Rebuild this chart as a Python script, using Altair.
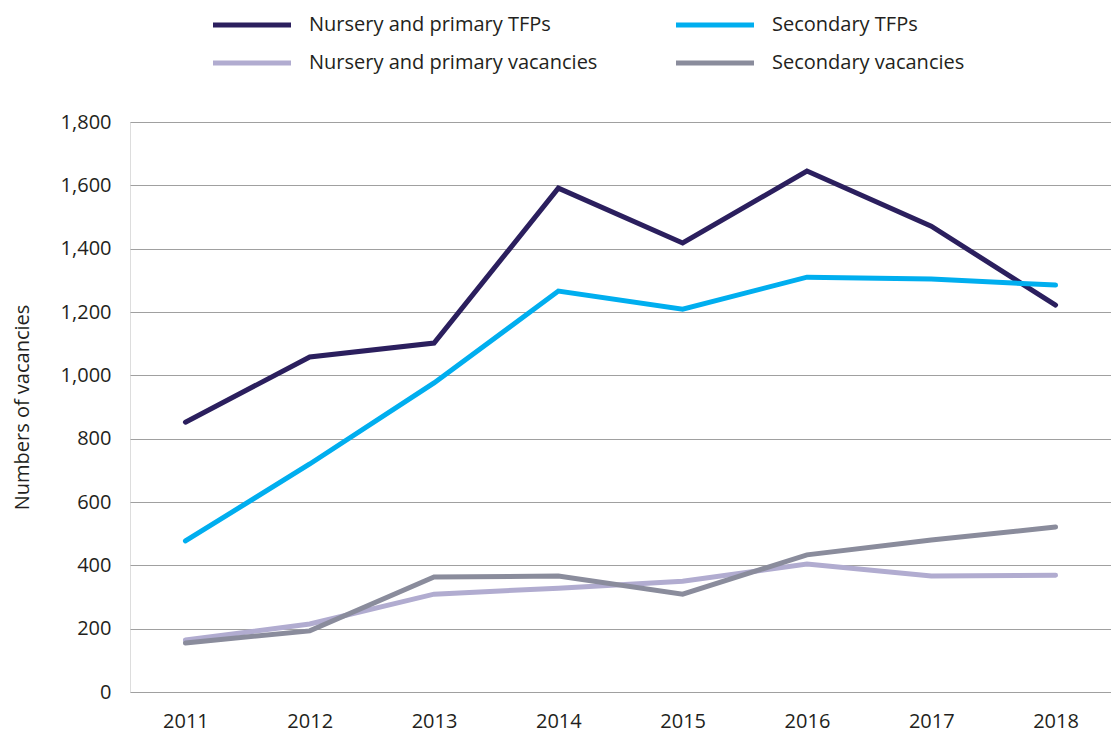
import altair as alt
import pandas as pd

years = ["2011", "2012", "2013", "2014", "2015", "2016", "2017", "2018"]
series_names = [
    "Nursery and primary TFPs",
    "Secondary TFPs",
    "Nursery and primary vacancies",
    "Secondary vacancies",
]
nursery_primary_tfps = [852, 1058, 1102, 1591, 1418, 1645, 1471, 1222]
secondary_tfps = [477, 720, 976, 1266, 1209, 1310, 1304, 1285]
nursery_primary_vacancies = [164, 215, 309, 328, 350, 404, 366, 369]
secondary_vacancies = [155, 193, 363, 366, 309, 433, 480, 521]
colors = ["#2b1f5e", "#00aeef", "#b1acd0", "#8a8c9c"]

rows = []
for name, vals in zip(series_names, [nursery_primary_tfps, secondary_tfps,
                                     nursery_primary_vacancies, secondary_vacancies]):
    for y, v in zip(years, vals):
        rows.append({"Year": y, "Series": name, "Value": v})
df = pd.DataFrame(rows)

FONT = "Open Sans"
TXT = "#231f20"

chart = alt.Chart(df).mark_line(strokeWidth=5, strokeCap="round", strokeJoin="miter").encode(
    x=alt.X("Year:O", sort=years, scale=alt.Scale(type="point", padding=0.446),
            axis=alt.Axis(title=None, labelAngle=0, ticks=False, domain=False,
                          labelPadding=19, labelFontSize=20, labelColor=TXT,
                          labelFont=FONT)),
    y=alt.Y("Value:Q", scale=alt.Scale(domain=[0, 1800], nice=False),
            axis=alt.Axis(values=list(range(0, 1801, 200)), format=",d", title="Numbers of vacancies",
                          ticks=False, domain=False, labelPadding=19, labelFontSize=20,
                          labelColor=TXT, labelFont=FONT, titleFont=FONT,
                          titleFontSize=20, titleFontWeight="normal", titleColor=TXT,
                          titlePadding=28, gridColor="#a0a0a0", gridWidth=1)),
    color=alt.Color("Series:N", sort=series_names,
                    scale=alt.Scale(domain=series_names, range=colors),
                    legend=alt.Legend(title=None, orient="none", legendX=100, legendY=-119,
                                      columns=2, columnPadding=68, rowPadding=6,
                                      symbolType="M-2,0H2", symbolSize=1521,
                                      symbolStrokeWidth=5, labelFontSize=20,
                                      labelFont=FONT, labelColor=TXT, labelOffset=35,
                                      labelLimit=500, direction="horizontal")),
).properties(
    width=981, height=570,
    padding={"left": 122, "top": 114, "right": 0, "bottom": 40},
    autosize=alt.AutoSizeParams(type="none"),
).configure_view(stroke=None).configure(background="white")

chart.save("out.html", embed_options={"renderer": "svg", "actions": False})
